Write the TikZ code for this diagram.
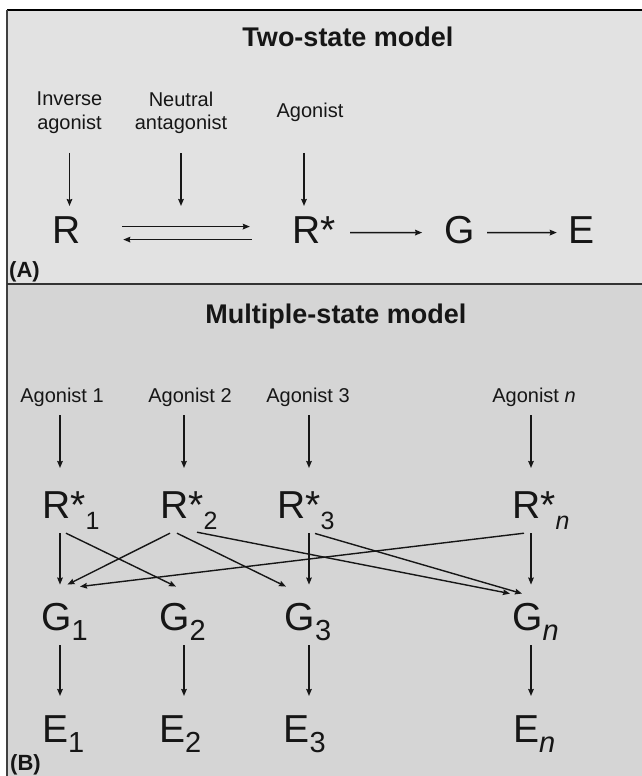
\documentclass[tikz,border=0pt]{standalone}
\usepackage{fontspec}
\setmainfont{Liberation Sans}
\usetikzlibrary{arrows.meta}
\definecolor{panelA}{HTML}{E2E2E2}
\definecolor{panelB}{HTML}{D5D5D5}
\definecolor{ink}{HTML}{161616}
\newcommand{\rst}[1]{R*\raisebox{-11pt}{\fontsize{25}{25}\selectfont #1}}
\newcommand{\lsub}[2]{#1\raisebox{-10pt}{\fontsize{29}{29}\selectfont #2}}

\begin{document}
\begin{tikzpicture}[x=1pt,y=-1pt,>={Stealth[length=7pt,width=5.6pt,inset=0.8pt]},
 every node/.style={inner sep=0pt,text=ink},
 big/.style={font=\fontsize{39}{39}\selectfont},
 lbl/.style={font=\fontsize{20}{23.5}\selectfont,align=center},
 head/.style={font=\fontsize{27}{27}\selectfont\bfseries,anchor=base},
 tag/.style={font=\fontsize{22}{22}\selectfont\bfseries,anchor=base west},
 link/.style={->,draw=ink,line width=1.4pt}]
\useasboundingbox (0,0) rectangle (642,776);
\fill[white] (0,0) rectangle (642,776);
\fill[panelA] (7,10) rectangle (642,284);
\fill[panelB] (7,284) rectangle (642,776);
\draw[line width=2.5pt,black] (7,10) -- (642,10);
\draw[line width=2pt,black!75] (7,10) -- (7,776);
\draw[line width=2pt,black!80] (7,284) -- (642,284);

% (A) two-state model
\node[head] (titleA) at (348,47) {Two-state model};
\node[lbl] (inv) at (69.5,112.7) {Inverse\\agonist};
\node[lbl] (neu) at (181,112.7) {Neutral\\antagonist};
\node[lbl,anchor=base] (ago) at (310,117.7) {Agonist};
\node[big,anchor=base] (r) at (67,243) {R};
\node[big,anchor=base] (rs) at (313.7,243) {R*};
\node[big,anchor=base] (g) at (459.5,243) {G};
\node[big,anchor=base] (e) at (581,243) {E};
\node[tag] (tagA) at (9,277) {(A)};

\draw[link] ([yshift=-19.3pt]inv.south) -- ([yshift=10pt]inv.south |- r.north);
\draw[link] ([yshift=-19.3pt]neu.south) -- ([yshift=10pt]neu.south |- r.north);
\draw[link] ([xshift=-6pt,yshift=-19.3pt]ago.south |- inv.south) -- ([xshift=-6pt,yshift=10pt]ago.south |- r.north);
\draw[link] ([xshift=41pt,yshift=3pt]r.east) -- ([xshift=-42pt,yshift=3pt]rs.west);
\draw[link] ([xshift=-40pt,yshift=-10pt]rs.west) -- ([xshift=42pt,yshift=-10pt]r.east);
\draw[link] ([xshift=14.6pt,yshift=-3pt]rs.east) -- ([xshift=-22pt,yshift=-3pt]g.west);
\draw[link] ([xshift=12.3pt,yshift=-3pt]g.east) -- ([xshift=-11pt,yshift=-3pt]e.west);

% (B) multiple-state model
\node[head] (titleB) at (336,323) {Multiple-state model};
\node[lbl,anchor=base] (ag1) at (62,402) {Agonist 1};
\node[lbl,anchor=base] (ag2) at (190,402) {Agonist 2};
\node[lbl,anchor=base] (ag3) at (308,402) {Agonist 3};
\node[lbl,anchor=base] (agn) at (534,402) {Agonist \textit{n}};
\coordinate (k1) at (60,0);
\coordinate (k2) at (184,0);
\coordinate (k3) at (309,0);
\coordinate (kn) at (531,0);

\node[big,anchor=base west] (r1) at (42,518) {\rst{1}};
\node[big,anchor=base west] (r2) at (160,518) {\rst{2}};
\node[big,anchor=base west] (r3) at (277,518) {\rst{3}};
\node[big,anchor=base west] (rn) at (512,518) {\rst{\textit{n}}};
\node[big,anchor=base west] (g1) at (41,630) {\lsub{G}{1}};
\node[big,anchor=base west] (g2) at (159,630) {\lsub{G}{2}};
\node[big,anchor=base west] (g3) at (284.5,630) {\lsub{G}{3}};
\node[big,anchor=base west] (gn) at (512,630) {\lsub{G}{\textit{n}}};
\node[big,anchor=base west] (e1) at (42,742) {\lsub{E}{1}};
\node[big,anchor=base west] (e2) at (159,742) {\lsub{E}{2}};
\node[big,anchor=base west] (e3) at (283.5,742) {\lsub{E}{3}};
\node[big,anchor=base west] (en) at (513,742) {\lsub{E}{\textit{n}}};
\node[tag] (tagB) at (10,770) {(B)};

\draw[link] ([yshift=-9pt]k1 |- ag1.south) -- ([yshift=23pt]k1 |- r1.north);
\draw[link] ([yshift=-9pt]k2 |- ag2.south) -- ([yshift=23pt]k2 |- r2.north);
\draw[link] ([yshift=-9pt]k3 |- ag3.south) -- ([yshift=23pt]k3 |- r3.north);
\draw[link] ([yshift=-9pt]kn |- agn.south) -- ([yshift=23pt]kn |- rn.north);

\draw[link] ([yshift=-4pt]k1 |- r1.south) -- ([yshift=18pt]k1 |- g1.north);
\draw[link] ([yshift=-4pt]k3 |- r3.south) -- ([yshift=18pt]k3 |- g3.north);
\draw[link] ([yshift=-4pt]kn |- rn.south) -- ([yshift=18pt]kn |- gn.north);
\draw[link] ([xshift=24pt,yshift=-4pt]r1.south west) -- ([xshift=17pt,yshift=16pt]g2.north west);
\draw[link] ([xshift=10pt,yshift=-4pt]r2.south west) -- ([xshift=26.5pt,yshift=18pt]g1.north west);
\draw[link] ([xshift=17pt,yshift=-4pt]r2.south west) -- ([xshift=1.5pt,yshift=16pt]g3.north west);
\draw[link] ([xshift=37pt,yshift=-3pt]r2.south west) -- ([xshift=-2pt,yshift=9pt]gn.north west);
\draw[link] ([xshift=38pt,yshift=-4pt]r3.south west) -- ([xshift=10pt,yshift=9pt]gn.north west);
\draw[link] ([xshift=12pt,yshift=-4pt]rn.south west) -- ([xshift=39pt,yshift=16pt]g1.north west);

\draw[link] ([yshift=-5pt]k1 |- g1.south) -- ([yshift=19pt]k1 |- e1.north);
\draw[link] ([yshift=-5pt]k2 |- g2.south) -- ([yshift=19pt]k2 |- e2.north);
\draw[link] ([yshift=-5pt]k3 |- g3.south) -- ([yshift=19pt]k3 |- e3.north);
\draw[link] ([yshift=-5pt]kn |- gn.south) -- ([yshift=19pt]kn |- en.north);
\end{tikzpicture}
\end{document}
